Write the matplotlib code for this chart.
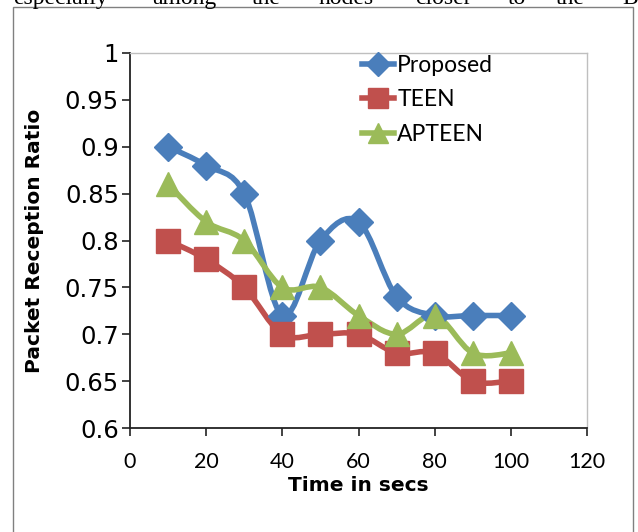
import numpy as np
import matplotlib
matplotlib.use("Agg")
import matplotlib.pyplot as plt
from matplotlib.path import Path
from matplotlib.patches import PathPatch, Rectangle

# data
time_secs = [10, 20, 30, 40, 50, 60, 70, 80, 90, 100]
proposed = [0.90, 0.88, 0.85, 0.72, 0.80, 0.82, 0.74, 0.72, 0.72, 0.72]
teen = [0.80, 0.78, 0.75, 0.70, 0.70, 0.70, 0.68, 0.68, 0.65, 0.65]
apteen = [0.86, 0.82, 0.80, 0.75, 0.75, 0.72, 0.70, 0.72, 0.68, 0.68]

x_ticks = [0, 20, 40, 60, 80, 100, 120]
y_ticks = [0.6, 0.65, 0.7, 0.75, 0.8, 0.85, 0.9, 0.95, 1]
y_tick_labels = ["0.6", "0.65", "0.7", "0.75", "0.8", "0.85", "0.9", "0.95", "1"]

BLUE = "#4A7EBB"
RED = "#C0504D"
GREEN = "#9BBB59"


def smooth_path(xs, ys):
    # excel style smoothed line: cubic bezier segments through every point
    pts = np.column_stack([xs, ys]).astype(float)
    n = len(pts)
    verts = [pts[0]]
    codes = [Path.MOVETO]
    for i in range(n - 1):
        p0 = pts[i - 1] if i > 0 else pts[i]
        p1 = pts[i]
        p2 = pts[i + 1]
        p3 = pts[i + 2] if i + 2 < n else pts[i + 1]
        c1 = p1 + (p2 - p0) / 6.0
        c2 = p2 - (p3 - p1) / 6.0
        verts += [c1, c2, p2]
        codes += [Path.CURVE4] * 3
    return Path(verts, codes)


fig = plt.figure(figsize=(6.38, 5.32), dpi=100)
ax = fig.add_axes([130 / 638, 104 / 532, 457 / 638, 375 / 532])

series = [
    ("Proposed", proposed, BLUE, "D", 14),
    ("TEEN", teen, RED, "s", 17),
    ("APTEEN", apteen, GREEN, "^", 17),
]
for name, vals, col, mk, ms in series:
    patch = PathPatch(smooth_path(time_secs, vals), fill=False, edgecolor=col,
                      lw=4.0, capstyle="round", joinstyle="round", zorder=2)
    ax.add_patch(patch)
    ax.plot(time_secs, vals, linestyle="none", marker=mk, markersize=ms,
            color=col, markeredgecolor=col, zorder=3)
    ax.plot([], [], color=col, lw=4.0, marker=mk, markersize=ms * 0.85,
            markeredgecolor=col, label=name)

ax.set_xlim(0, 120)
ax.set_ylim(0.6, 1)
ax.set_xticks(x_ticks)
ax.set_xticklabels([str(t) for t in x_ticks], fontfamily="Lato", fontsize=15.5)
ax.set_yticks(y_ticks)
ax.set_yticklabels(y_tick_labels, fontfamily="DejaVu Sans", fontsize=17.5)
ax.tick_params(axis="both", direction="out", length=6, width=1.2, color="#222222")
ax.tick_params(axis="x", pad=11)
ax.tick_params(axis="y", pad=2)

for side in ["left", "bottom"]:
    ax.spines[side].set_color("#222222")
    ax.spines[side].set_linewidth(1.3)
for side in ["top", "right"]:
    ax.spines[side].set_color("#BFBFBF")
    ax.spines[side].set_linewidth(1.0)

ax.set_xlabel("Time in secs", fontfamily="DejaVu Sans", fontweight="bold",
              fontsize=14.5, labelpad=3)
ax.set_ylabel("Packet Reception Ratio", fontfamily="DejaVu Sans", fontweight="bold",
              fontsize=14.5, labelpad=15)

leg = ax.legend(loc="upper left", bbox_to_anchor=(0.487, 1.02), frameon=False,
                prop={"family": "Lato", "size": 16.5}, handlelength=1.4,
                handletextpad=0.15, labelspacing=0.6, borderaxespad=0.0)

# outer frame of the figure box
fig.patches.append(Rectangle((13 / 638, -0.01), 633 / 638 - 13 / 638, (532 - 7) / 532 + 0.01,
                             transform=fig.transFigure, fill=False,
                             edgecolor="#808080", lw=1.0))

# text cut off at the top of the page
words = [("especially", 13), ("among", 152), ("the", 252), ("nodes", 318),
         ("closer", 415), ("to", 508), ("the", 556), ("B", 622)]
for w, px in words:
    fig.text(px / 638, 1 - 4 / 532, w, fontfamily="Liberation Serif", fontsize=17,
             va="baseline", ha="left")

fig.savefig("out.png", dpi=100)
